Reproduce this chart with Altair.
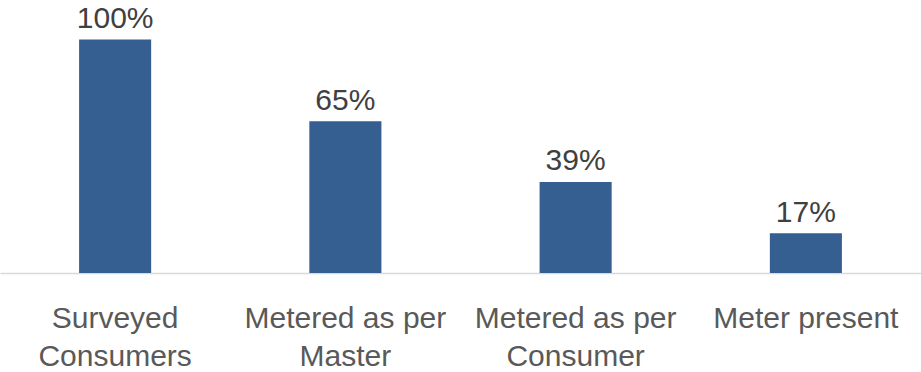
import altair as alt
import pandas as pd

categories = ["Surveyed\nConsumers", "Metered as per\nMaster", "Metered as per\nConsumer", "Meter present"]
values = [1.00, 0.65, 0.39, 0.17]
value_labels = ["100%", "65%", "39%", "17%"]

df = pd.DataFrame({"cat": categories, "val": values, "lab": value_labels})

FONT = "Liberation Sans"
FS = 30

x = alt.X("cat:N", sort=categories, title=None,
          scale=alt.Scale(paddingInner=0.687, paddingOuter=0.3435),
          axis=alt.Axis(labelAngle=0, ticks=False, labelFont=FONT, labelFontSize=FS,
                        labelColor="#595959", labelPadding=30, labelLineHeight=38.6,
                        labelExpr="split(datum.label, '\\n')",
                        domainColor="#d9d9d9", domainWidth=1.5, labelLimit=400))
y = alt.Y("val:Q", scale=alt.Scale(domain=[0, 1.1687], nice=False, zero=True), axis=None)

bars = alt.Chart(df).mark_bar(color="#355F91").encode(x=x, y=y)
text = alt.Chart(df).mark_text(font=FONT, fontSize=FS, color="#404040", baseline="alphabetic", dy=-11.5).encode(
    x=alt.X("cat:N", sort=categories), y=y, text="lab:N")

chart = alt.layer(bars, text).properties(
    width=921, height=273,
    background="white",
    autosize=alt.AutoSizeParams(type="none"),
    padding={"top": 0, "left": 0, "right": 0, "bottom": 99},
).configure_view(strokeWidth=0, stroke="transparent")

chart.save("out.html", embed_options={"renderer": "svg", "actions": False})
